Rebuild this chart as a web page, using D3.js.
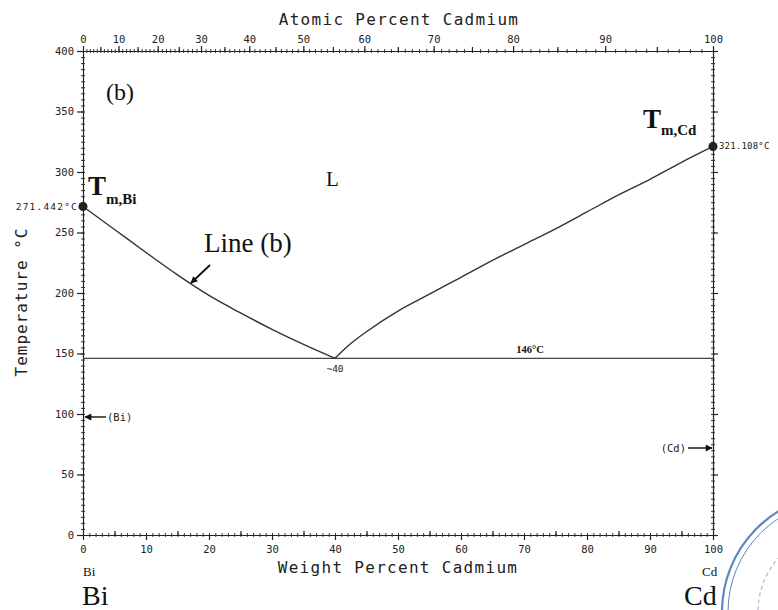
<!DOCTYPE html>
<html>
<head>
<meta charset="utf-8">
<script src="https://cdn.jsdelivr.net/npm/d3@7"></script>
<style>
  body { margin: 0; background: #fff; }
  svg { display: block; }
  .axis path, .axis line { stroke: #222; stroke-width: 1.2px; fill: none; }
  .axis text { font-family: "DejaVu Sans Mono", monospace; font-size: 10.5px; fill: #222; }
  .mono { font-family: "DejaVu Sans Mono", monospace; fill: #222; }
  .serif { font-family: "Liberation Serif", "DejaVu Serif", serif; fill: #111; }
</style>
</head>
<body>
<svg id="chart" width="778" height="610"></svg>
<script>
// Bi-Cd phase diagram
var weightTicks = [0,10,20,30,40,50,60,70,80,90,100];
var atomicTicks = [0,10,20,30,40,50,60,70,80,90,100];
var tempTicks = [0,50,100,150,200,250,300,350,400];

var leftLiquidusWt = [0,5,10,15,20,25,30,35,40];
var leftLiquidusT  = [271.442,252.5,233.5,215,198,183.5,170,157.5,146];
var rightLiquidusWt = [40,42,45,50,55,60,65,70,75,80,85,90,95,100];
var rightLiquidusT  = [146,156,168,185,199,213,227,240,253,267,281,294,308,321.108];

var eutecticWt = 40, eutecticT = 146;
var meltBi = 271.442, meltCd = 321.108;
var massBi = 208.98, massCd = 112.41;

var frame = { left: 83, right: 713, top: 51, bottom: 535 };

var svg = d3.select('#chart');
var x = d3.scaleLinear().domain([0,100]).range([frame.left, frame.right]);
var y = d3.scaleLinear().domain([0,400]).range([frame.bottom, frame.top]);

// atomic % -> weight % Cd
var atToWt = a => 100 * a * massCd / (a * massCd + (100 - a) * massBi);

function crossMinor(g, horizontal) {
  g.select('.domain').remove();
  g.selectAll('text').remove();
  g.selectAll('line').attr(horizontal ? 'y1' : 'x1', -2).attr(horizontal ? 'y2' : 'x2', 2)
    .style('stroke-width', '0.9px');
}

// bottom axis
svg.append('g').attr('class','axis').attr('transform','translate(0,'+frame.bottom+')')
  .call(d3.axisBottom(x).tickValues(d3.range(0,101,1)).tickFormat(''))
  .call(g => crossMinor(g, true));
svg.append('g').attr('class','axis').attr('transform','translate(0,'+frame.bottom+')')
  .call(d3.axisBottom(x).tickValues(d3.range(5,100,10)).tickSize(-4).tickFormat(''))
  .call(g => g.select('.domain').remove());
svg.append('g').attr('class','axis').attr('transform','translate(0,'+frame.bottom+')')
  .call(d3.axisBottom(x).tickValues(weightTicks).tickSize(5).tickPadding(6).tickSizeOuter(0));

// top axis (atomic percent)
svg.append('g').attr('class','axis').attr('transform','translate(0,'+frame.top+')')
  .call(d3.axisTop(x).tickValues(d3.range(0,101,1).map(atToWt)).tickFormat(''))
  .call(g => crossMinor(g, true));
svg.append('g').attr('class','axis').attr('transform','translate(0,'+frame.top+')')
  .call(d3.axisTop(x).tickValues(d3.range(5,100,10).map(atToWt)).tickSize(4).tickFormat(''))
  .call(g => g.select('.domain').remove());
svg.append('g').attr('class','axis').attr('transform','translate(0,'+frame.top+')')
  .call(d3.axisTop(x).tickValues(atomicTicks.map(atToWt)).tickSize(5).tickPadding(3)
    .tickSizeOuter(0).tickFormat((d,i) => atomicTicks[i]));

// left axis
svg.append('g').attr('class','axis').attr('transform','translate('+frame.left+',0)')
  .call(d3.axisLeft(y).tickValues(d3.range(0,401,5)).tickFormat(''))
  .call(g => crossMinor(g, false));
svg.append('g').attr('class','axis').attr('transform','translate('+frame.left+',0)')
  .call(d3.axisLeft(y).tickValues(tempTicks).tickSize(6).tickPadding(3).tickSizeOuter(0));

// right axis
svg.append('g').attr('class','axis').attr('transform','translate('+frame.right+',0)')
  .call(d3.axisRight(y).tickValues(d3.range(0,401,5)).tickFormat(''))
  .call(g => crossMinor(g, false));
svg.append('g').attr('class','axis').attr('transform','translate('+frame.right+',0)')
  .call(d3.axisRight(y).tickValues(tempTicks).tickSize(5).tickSizeOuter(0).tickFormat(''));

// eutectic horizontal
svg.append('line')
  .attr('x1', x(0)).attr('x2', x(100)).attr('y1', y(eutecticT)).attr('y2', y(eutecticT))
  .style('stroke','#444').style('stroke-width',1.3);

// liquidus curves
var line = d3.line().x(d => x(d[0])).y(d => y(d[1])).curve(d3.curveMonotoneX);
[[leftLiquidusWt,leftLiquidusT],[rightLiquidusWt,rightLiquidusT]].forEach(s => {
  svg.append('path').datum(d3.zip(s[0], s[1])).attr('d', line)
    .style('fill','none').style('stroke','#333').style('stroke-width',1.4);
});

// melting points
svg.append('circle').attr('cx', x(0)).attr('cy', y(meltBi)).attr('r', 4.5).style('fill','#222');
svg.append('circle').attr('cx', x(100)).attr('cy', y(meltCd)).attr('r', 4.5).style('fill','#222');
svg.append('text').attr('class','mono').attr('x', x(0) - 5).attr('y', y(meltBi) + 3)
  .attr('text-anchor','end').style('font-size','9.5px').style('letter-spacing','1.2px').text('271.442°C');
svg.append('text').attr('class','mono').attr('x', x(100) + 6).attr('y', y(meltCd) + 3)
  .style('font-size','9px').style('letter-spacing','0.2px').text('321.108°C');

// axis titles
svg.append('text').attr('class','mono').attr('x', 399).attr('y', 25).attr('text-anchor','middle')
  .style('font-size','16px').style('letter-spacing','1.3px').text('Atomic Percent Cadmium');
svg.append('text').attr('class','mono').attr('x', 398).attr('y', 573).attr('text-anchor','middle')
  .style('font-size','16px').style('letter-spacing','1.3px').text('Weight Percent Cadmium');
svg.append('text').attr('class','mono').attr('transform','translate(27,302) rotate(-90)')
  .attr('text-anchor','middle').style('font-size','16px').style('letter-spacing','1px')
  .text('Temperature °C');

// element labels
svg.append('text').attr('class','serif').attr('x', 83).attr('y', 576).style('font-size','13px').text('Bi');
svg.append('text').attr('class','serif').attr('x', 82).attr('y', 605).style('font-size','28px').text('Bi');
svg.append('text').attr('class','serif').attr('x', 702).attr('y', 576).style('font-size','13px').text('Cd');
svg.append('text').attr('class','serif').attr('x', 684).attr('y', 605).style('font-size','28px').text('Cd');

// annotations
svg.append('text').attr('class','serif').attr('x', 106).attr('y', 100).style('font-size','24px').text('(b)');
svg.append('text').attr('class','serif').attr('x', 326).attr('y', 186).style('font-size','21px').text('L');
svg.append('text').attr('class','serif').attr('x', 204).attr('y', 252).style('font-size','27px').text('Line (b)');

function meltLabel(px, py, sub, dy) {
  var t = svg.append('text').attr('class','serif').attr('x', px).attr('y', py)
    .style('font-weight','bold');
  t.append('tspan').style('font-size','27px').text('T');
  t.append('tspan').attr('dy', dy).style('font-size','15px').text(sub);
}
meltLabel(88, 195, 'm,Bi', 9);
meltLabel(643, 128, 'm,Cd', 7);

svg.append('text').attr('class','mono').attr('x', x(eutecticWt)).attr('y', y(eutecticT) + 14)
  .attr('text-anchor','middle').style('font-size','9.5px').text('~40');
svg.append('text').attr('class','serif').attr('x', 530).attr('y', y(eutecticT) - 5)
  .attr('text-anchor','middle').style('font-size','10.5px').style('font-weight','bold').text('146°C');

// arrows
var defs = svg.append('defs');
defs.append('marker').attr('id','head').attr('viewBox','0 0 10 10').attr('refX',9).attr('refY',5)
  .attr('markerWidth',9).attr('markerHeight',7).attr('markerUnits','userSpaceOnUse').attr('orient','auto')
  .append('path').attr('d','M0,0L10,5L0,10z').style('fill','#111');
function arrow(x1,y1,x2,y2,w) {
  svg.append('line').attr('x1',x1).attr('y1',y1).attr('x2',x2).attr('y2',y2)
    .style('stroke','#111').style('stroke-width', w || 1.4).attr('marker-end','url(#head)');
}
arrow(210, 265, 191, 283, 1.8);
arrow(106, 417, 85, 417);
svg.append('text').attr('class','mono').attr('x', 107).attr('y', 421).style('font-size','10.5px').text('(Bi)');
arrow(688, 448, 712, 448);
svg.append('text').attr('class','mono').attr('x', 686).attr('y', 452).attr('text-anchor','end')
  .style('font-size','10.5px').text('(Cd)');

// scanned stamp, partly visible in the corner
var stamp = svg.append('g').style('fill','none').style('stroke','#5b86c4');
stamp.append('circle').attr('cx', 840).attr('cy', 612).attr('r', 118).style('stroke-width', 2.2);
stamp.append('circle').attr('cx', 840).attr('cy', 612).attr('r', 112).style('stroke-width', 1);
stamp.append('circle').attr('cx', 840).attr('cy', 612).attr('r', 82)
  .style('stroke-width', 1.2).style('stroke-dasharray','4,3').style('opacity',0.55);
</script>
</body>
</html>
